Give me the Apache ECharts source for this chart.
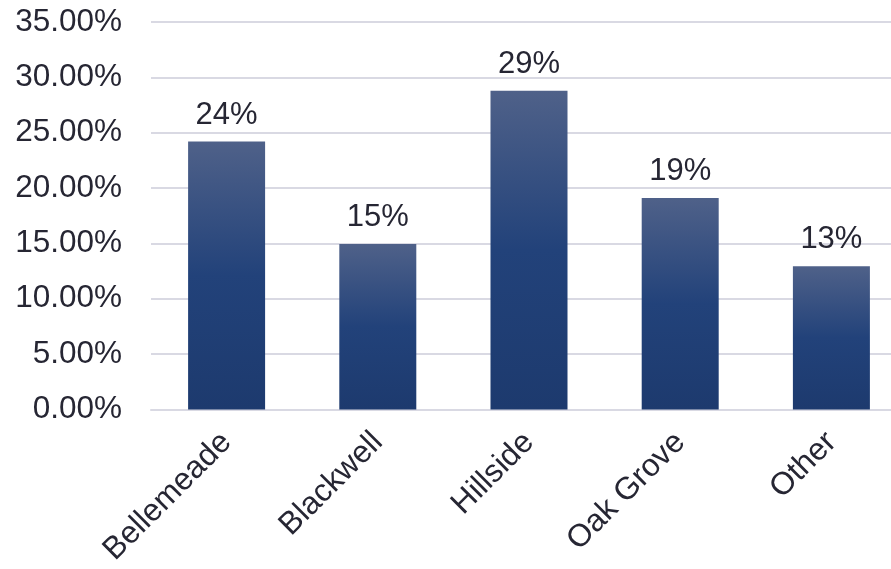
<!DOCTYPE html>
<html><head><meta charset="utf-8">
<script src="https://cdn.jsdelivr.net/npm/echarts@6/dist/echarts.min.js"></script>
<style>html,body{margin:0;padding:0;background:#fff;overflow:hidden}#c{width:907px;height:569px}</style>
</head><body><div id="c"></div>
<script>
const categories = ['Bellemeade', 'Blackwell', 'Hillside', 'Oak Grove', 'Other'];
const values = [24.2, 14.95, 28.8, 19.1, 12.95];
const yTicks = { min: 0, max: 35, interval: 5 };

const chart = echarts.init(document.getElementById('c'));
const txt = '#262633';
const ff = 'Liberation Sans, Arial, sans-serif';
chart.setOption({
  animation: false,
  grid: { left: 151, right: 0, top: 22, bottom: 159.5, containLabel: false },
  xAxis: {
    type: 'category', data: categories,
    axisLine: { show: true, lineStyle: { color: '#d9d9e3', width: 2 } },
    axisTick: { show: false },
    axisLabel: { rotate: 45, margin: 28, fontSize: 31.5, color: txt, fontFamily: ff, interval: 0 }
  },
  yAxis: {
    type: 'value', min: yTicks.min, max: yTicks.max, interval: yTicks.interval,
    axisLine: { show: false }, axisTick: { show: false },
    splitLine: { lineStyle: { color: '#d9d9e3', width: 2 } },
    axisLabel: { fontSize: 31.5, color: txt, margin: 29, fontFamily: ff,
      formatter: v => v.toFixed(2) + '%' }
  },
  series: [{
    type: 'bar', data: values, barWidth: 77,
    itemStyle: { color: new echarts.graphic.LinearGradient(0, 0, 0, 1, [
      { offset: 0, color: '#4f6189' }, { offset: 0.5, color: '#22427a' }, { offset: 1, color: '#1d3a6e' }]) },
    label: { show: true, position: 'top', distance: 11, fontSize: 31, color: txt,
      fontFamily: ff, formatter: p => Math.round(p.value) + '%' }
  }]
});
</script></body></html>
